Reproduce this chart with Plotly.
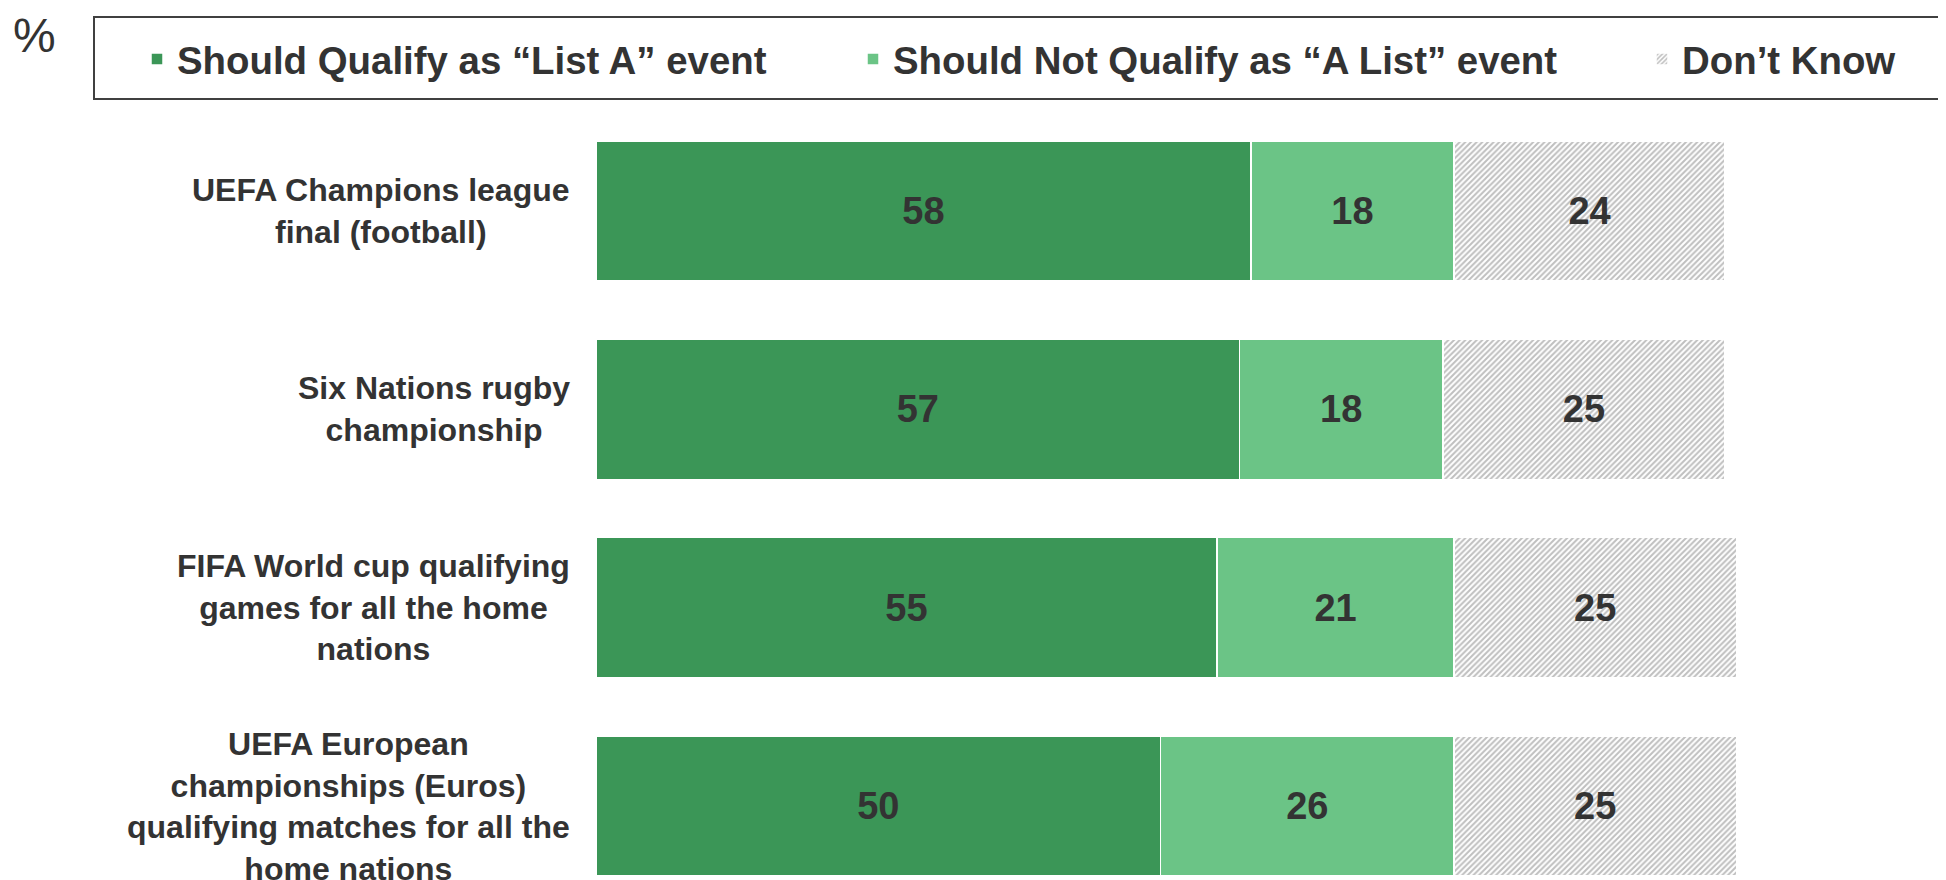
import plotly.graph_objects as go

# The page body adds an 8px margin, so the figure is sized to fill the rest
OFF = 8
W, H = 1946 - OFF, 880 - OFF

categories = [
    "UEFA Champions league<br>final (football)",
    "Six Nations rugby<br>championship",
    "FIFA World cup qualifying<br>games for all the home<br>nations",
    "UEFA European<br>championships (Euros)<br>qualifying matches for all the<br>home nations",
]
series_names = [
    "Should Qualify as \u201cList A\u201d event",
    "Should Not Qualify as \u201cA List\u201d event",
    "Don\u2019t Know",
]
qualify = [58, 57, 55, 50]
not_qualify = [18, 18, 21, 26]
dont_know = [24, 25, 25, 25]

FONT = "Liberation Sans, Arial, sans-serif"
TXT = "#333333"
DARK = "#3b9657"
LIGHT = "#6bc486"

M_L, M_R, M_T, M_B = 596 - OFF, 108, 104, 0
PW = W - M_L - M_R
PH = H - M_T - M_B


def px_x(px):
    """screen pixel x -> paper x"""
    return (px - OFF - M_L) / PW


def px_y(py):
    """screen pixel y -> paper y"""
    return (H - M_B - (py - OFF)) / PH


fig = go.Figure()
common = dict(
    orientation="h",
    texttemplate="%{x}",
    textposition="inside",
    insidetextanchor="middle",
    textfont=dict(family=FONT, size=38, color=TXT, weight="bold"),
    constraintext="none",
)
fig.add_trace(go.Bar(
    y=categories, x=qualify, name=series_names[0], legend="legend",
    marker=dict(color=DARK, line=dict(color="white", width=1.5)), **common))
fig.add_trace(go.Bar(
    y=categories, x=not_qualify, name=series_names[1], legend="legend2",
    marker=dict(color=LIGHT, line=dict(color="white", width=1.5)), **common))
fig.add_trace(go.Bar(
    y=categories, x=dont_know, name=series_names[2], legend="legend3",
    marker=dict(color="white", line=dict(color="white", width=1.5),
                pattern=dict(shape="/", fgcolor="#808080", bgcolor="white",
                             size=4, solidity=0.5)), **common))

leg_common = dict(
    orientation="h", xref="container", yref="container",
    xanchor="left", yanchor="middle",
    bgcolor="rgba(0,0,0,0)", borderwidth=0,
    font=dict(family=FONT, size=38.4, color=TXT, weight="bold"),
)
legend_y = 1 - (59 - OFF) / H


def leg_x(text_px):
    return (text_px - OFF - 39) / W


annotations = []
for cat in categories:
    annotations.append(dict(
        x=px_x(572), xref="paper", y=cat, yref="y",
        xanchor="right", yanchor="middle", align="center",
        text=cat, showarrow=False,
        font=dict(family=FONT, size=32, color=TXT, weight="bold"),
    ))
annotations.append(dict(
    x=px_x(12), xref="paper", y=px_y(OFF), yref="paper",
    xanchor="left", yanchor="top", text="%", showarrow=False, borderpad=0,
    font=dict(family=FONT, size=48, color=TXT),
))

fig.update_layout(
    width=W, height=H,
    margin=dict(l=M_L, r=M_R, t=M_T, b=M_B, pad=0),
    barmode="stack", bargap=0.294,
    paper_bgcolor="white", plot_bgcolor="white",
    showlegend=True,
    legend=dict(x=leg_x(176), y=legend_y, **leg_common),
    legend2=dict(x=leg_x(892), y=legend_y, **leg_common),
    legend3=dict(x=leg_x(1681), y=legend_y, **leg_common),
    xaxis=dict(range=[0, 110], showgrid=False, zeroline=False,
               showticklabels=False, showline=False, fixedrange=True),
    yaxis=dict(range=[3.373, -0.5], showgrid=False, zeroline=False,
               showticklabels=False, showline=False, fixedrange=True),
    annotations=annotations,
    shapes=[dict(
        type="rect", xref="paper", yref="paper",
        x0=px_x(94), x1=px_x(1944), y0=px_y(99), y1=px_y(17),
        line=dict(color="#404040", width=2), fillcolor="rgba(0,0,0,0)",
        layer="above",
    )],
)

fig.write_html("out.html")
